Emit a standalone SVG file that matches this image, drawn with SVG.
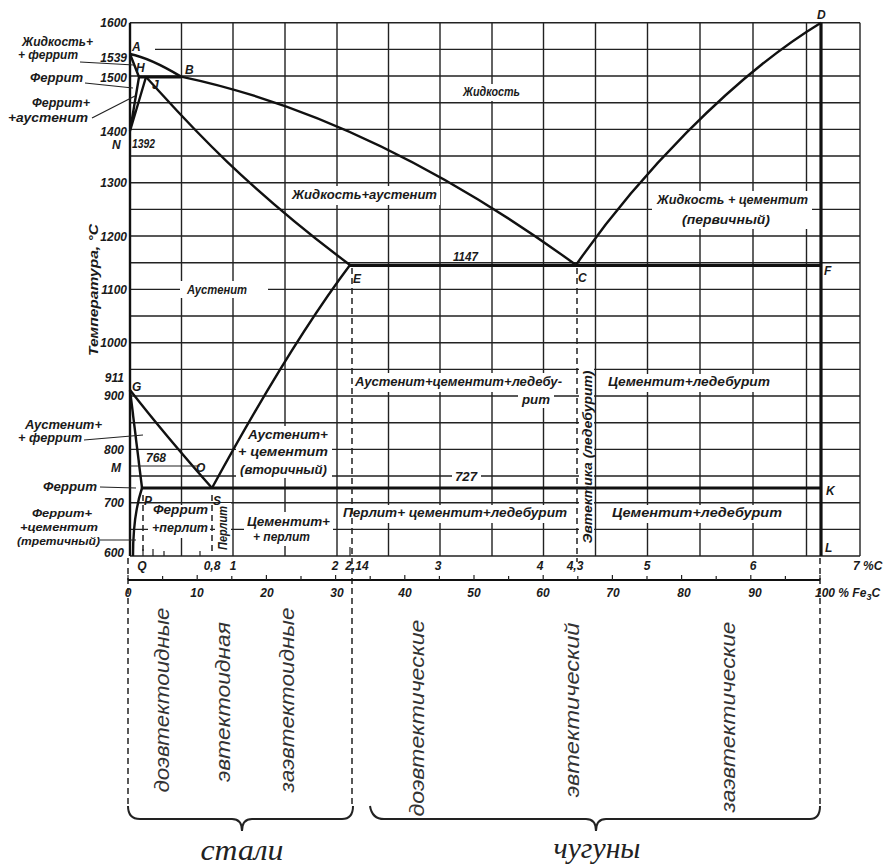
<svg xmlns="http://www.w3.org/2000/svg" width="886" height="868" viewBox="0 0 886 868">
<style>
.g{stroke:#222;stroke-width:1.4;fill:none}
.p{stroke:#111;stroke-width:2.4;fill:none;stroke-linejoin:round}
.pt{stroke:#111;stroke-width:3.2;fill:none}
.d{stroke:#222;stroke-width:1.5;fill:none;stroke-dasharray:6 4}
.ld{stroke:#222;stroke-width:1.2;fill:none}
.bg{fill:#fff}
.t{font-family:"Liberation Sans",Arial,sans-serif;font-style:italic;font-weight:bold;font-size:12.5px;fill:#1a1a1a}
.n{font-family:"Liberation Sans",Arial,sans-serif;font-style:italic;font-weight:bold;font-size:12px;fill:#1a1a1a}
.b{font-family:"Liberation Sans",Arial,sans-serif;font-style:italic;font-size:20px;fill:#333}
.s{font-family:"Liberation Serif","Times New Roman",serif;font-style:italic;font-size:30px;fill:#222}
</style>
<rect width="886" height="868" fill="#fff"/>
<g id="grid">
<path class="g" d="M181.5,22.7V556M233,22.7V556M285,22.7V556M337,22.7V556M388.5,22.7V556M440,22.7V556M492,22.7V556M543.5,22.7V556M595.5,22.7V556M647.5,22.7V556M700,22.7V556M753,22.7V556M806.5,22.7V556M860,22.7V556
M130,22.7H860M155,49.4H860M130,76H860M130,102.7H860M130,129.4H860M130,156H860M130,182.7H860M130,209.4H860M130,236H860M130,262.7H860M130,289.4H860M130,316H860M130,342.7H860M130,369.4H860M130,396H860M130,422.7H860M130,449.4H860M130,476H860M130,502.7H860M130,529.4H860M130,556H860"/>
</g>
<g id="label-backgrounds">
<rect class="bg" x="459" y="84" width="66" height="17"/>
<rect class="bg" x="288" y="186" width="152" height="19"/>
<rect class="bg" x="652" y="191" width="160" height="38"/>
<rect class="bg" x="180" y="281" width="88" height="17"/>
<rect class="bg" x="450" y="250" width="31" height="12"/>
<rect class="bg" x="351" y="373" width="215" height="19"/>
<rect class="bg" x="518" y="391" width="36" height="17"/>
<rect class="bg" x="236" y="426" width="96" height="52"/>
<rect class="bg" x="452" y="469" width="29" height="14"/>
<rect class="bg" x="340" y="505" width="230" height="18"/>
<rect class="bg" x="244" y="512" width="89" height="34"/>
<rect class="bg" x="604" y="374" width="170" height="18"/>
<rect class="bg" x="608" y="505" width="178" height="18"/>
<rect class="bg" x="148" y="505" width="62" height="33"/>
<rect class="bg" x="215" y="503" width="16" height="50"/>
<rect class="bg" x="579" y="368" width="15" height="178"/>
</g>
<g id="phase-lines">
<path class="p" d="M130,22.7V556"/>
<path class="p" d="M130,54Q150,58 181,76.6"/>
<path class="p" d="M181,76.6Q373,117 576,265"/>
<path class="p" d="M576,265C635,180 730,78 821,22.7"/>
<path class="p" d="M130,54L139,77L130,131M146,77L130,131"/>
<path class="pt" d="M139,77H181"/>
<path class="p" d="M146,77C175,108 230,175 350,265"/>
<path class="pt" d="M350,265.5H821"/>
<path class="p" d="M350,265Q290,345 212,488"/>
<path class="p" d="M130,390Q165,435 212,488"/>
<path class="p" d="M130,390L142,488"/>
<path class="p" d="M142,488Q133,515 133,556"/>
<path class="ld" d="M130,466H200"/>
<path class="pt" d="M142,488H821"/>
<path class="pt" d="M821,22.7V556"/>
</g>
<g id="dashed-lines">
<path class="d" d="M352,268V806"/>
<path class="d" d="M577,268V562"/>
<path class="d" d="M143,495V553M212,495V553"/>
<path class="d" d="M128,558V806"/>
<path class="d" d="M820,558V806"/>
</g>
<g id="leaders">
<path class="ld" d="M80,62L134,65M85,83L133,88M92,118L135,96M84,440L143,435M100,487L136,488M100,540L136,540"/>
</g>
<g id="axes">
<path class="ld" d="M143,549V556M153,549V556M164,551V556M200,551V556M350,547V556"/>
<path class="p" style="stroke-width:2" d="M128,580H820"/>
<path class="ld" d="M128,575V580M162.6,576V580M197.2,575V580M231.8,576V580M266.4,575V580M301,576V580M335.6,575V580M370.2,576V580M404.8,575V580M439.4,576V580M474,575V580M508.6,576V580M543.2,575V580M577.8,576V580M612.4,575V580M647,576V580M681.6,575V580M716.2,576V580M750.8,575V580M785.4,576V580M820,575V580"/>
<g class="n" text-anchor="end">
<text x="127" y="27">1600</text>
<text x="127" y="62">1539</text>
<text x="127" y="82">1500</text>
<text x="127" y="136">1400</text>
<text x="127" y="187">1300</text>
<text x="127" y="241">1200</text>
<text x="127" y="294">1100</text>
<text x="127" y="347">1000</text>
<text x="124" y="382">911</text>
<text x="124" y="400">900</text>
<text x="124" y="454">800</text>
<text x="124" y="507">700</text>
<text x="124" y="557">600</text>
</g>
<g class="n" text-anchor="middle">
<text x="142" y="570">Q</text>
<text x="212" y="570">0,8</text>
<text x="233" y="570">1</text>
<text x="335" y="570">2</text>
<text x="357" y="570">2,14</text>
<text x="438" y="570">3</text>
<text x="540" y="570">4</text>
<text x="575" y="570">4,3</text>
<text x="647" y="570">5</text>
<text x="753" y="570">6</text>
<text x="128" y="597">0</text>
<text x="197" y="597">10</text>
<text x="267" y="597">20</text>
<text x="337" y="597">30</text>
<text x="405" y="597">40</text>
<text x="474" y="597">50</text>
<text x="543" y="597">60</text>
<text x="613" y="597">70</text>
<text x="684" y="597">80</text>
<text x="755" y="597">90</text>
</g>
<text class="n" x="853" y="570">7 %C</text>
<text class="n" x="815" y="597">100 % Fe<tspan font-size="9" dy="3">3</tspan><tspan dy="-3">C</tspan></text>
<text class="t" transform="translate(98,290) rotate(-90)" text-anchor="middle" font-size="14" textLength="132" lengthAdjust="spacingAndGlyphs">Температура, °С</text>
</g>
<g id="point-labels" class="n">
<text x="132" y="51">A</text>
<text x="136" y="72">H</text>
<text x="185" y="74">B</text>
<text x="152" y="89">J</text>
<text x="112" y="149">N</text>
<text x="132" y="148" textLength="23" lengthAdjust="spacingAndGlyphs">1392</text>
<text x="132" y="391">G</text>
<text x="111" y="472">M</text>
<text x="146" y="462">768</text>
<text x="196" y="472">O</text>
<text x="144" y="505">P</text>
<text x="213" y="505">S</text>
<text x="353" y="283">E</text>
<text x="578" y="282">C</text>
<text x="824" y="275">F</text>
<text x="817" y="19">D</text>
<text x="826" y="495">K</text>
<text x="825" y="552">L</text>
<text x="453" y="261" textLength="25" lengthAdjust="spacingAndGlyphs">1147</text>
<text x="455" y="481" textLength="22" lengthAdjust="spacingAndGlyphs">727</text>
</g>
<g id="side-labels" class="t">
<text x="22" y="46" textLength="71" lengthAdjust="spacingAndGlyphs">Жидкость+</text>
<text x="18" y="59" textLength="60" lengthAdjust="spacingAndGlyphs">+ феррит</text>
<text x="30" y="82" textLength="53" lengthAdjust="spacingAndGlyphs">Феррит</text>
<text x="32" y="107" textLength="58" lengthAdjust="spacingAndGlyphs">Феррит+</text>
<text x="8" y="122" textLength="80" lengthAdjust="spacingAndGlyphs">+аустенит</text>
<text x="25" y="429" textLength="77" lengthAdjust="spacingAndGlyphs">Аустенит+</text>
<text x="18" y="442" textLength="64" lengthAdjust="spacingAndGlyphs">+ феррит</text>
<text x="43" y="491" textLength="54" lengthAdjust="spacingAndGlyphs">Феррит</text>
<text x="32" y="517" font-size="11.5" textLength="60" lengthAdjust="spacingAndGlyphs">Феррит+</text>
<text x="20" y="531" font-size="11.5" textLength="78" lengthAdjust="spacingAndGlyphs">+цементит</text>
<text x="17" y="545" font-size="11.5" textLength="83" lengthAdjust="spacingAndGlyphs">(третичный)</text>
</g>
<g id="region-labels" class="t">
<text x="463" y="96" textLength="57" lengthAdjust="spacingAndGlyphs">Жидкость</text>
<text x="292" y="199" textLength="145" lengthAdjust="spacingAndGlyphs">Жидкость+аустенит</text>
<text x="657" y="204" textLength="151" lengthAdjust="spacingAndGlyphs">Жидкость + цементит</text>
<text x="682" y="224" textLength="88" lengthAdjust="spacingAndGlyphs">(первичный)</text>
<text x="187" y="294" textLength="60" lengthAdjust="spacingAndGlyphs">Аустенит</text>
<text x="355" y="386" textLength="207" lengthAdjust="spacingAndGlyphs">Аустенит+цементит+ледебу-</text>
<text x="522" y="404" textLength="28" lengthAdjust="spacingAndGlyphs">рит</text>
<text x="248" y="439" textLength="80" lengthAdjust="spacingAndGlyphs">Аустенит+</text>
<text x="238" y="456" textLength="90" lengthAdjust="spacingAndGlyphs">+ цементит</text>
<text x="240" y="474" textLength="87" lengthAdjust="spacingAndGlyphs">(вторичный)</text>
<text x="343" y="517" textLength="224" lengthAdjust="spacingAndGlyphs">Перлит+ цементит+ледебурит</text>
<text x="247" y="526" textLength="83" lengthAdjust="spacingAndGlyphs">Цементит+</text>
<text x="253" y="541" textLength="57" lengthAdjust="spacingAndGlyphs">+ перлит</text>
<text x="608" y="386" textLength="162" lengthAdjust="spacingAndGlyphs">Цементит+ледебурит</text>
<text x="612" y="517" textLength="170" lengthAdjust="spacingAndGlyphs">Цементит+ледебурит</text>
<text x="153" y="514" textLength="55" lengthAdjust="spacingAndGlyphs">Феррит</text>
<text x="152" y="532" textLength="56" lengthAdjust="spacingAndGlyphs">+перлит</text>
<text transform="translate(227,528) rotate(-90)" text-anchor="middle" textLength="44" lengthAdjust="spacingAndGlyphs">Перлит</text>
<text transform="translate(592,457) rotate(-90)" text-anchor="middle" textLength="173" lengthAdjust="spacingAndGlyphs">Эвтектика (ледебурит)</text>
</g>
<g id="classification">
<path class="ld" style="stroke-width:2" d="M128,806Q128,819 140,819L232,819Q242,819 242,831Q242,819 252,819L342,819Q353,819 353,806"/>
<path class="ld" style="stroke-width:2" d="M370,806Q372,819 384,819L586,819Q596,819 596,831Q596,819 606,819L810,819Q820,819 820,806"/>
<g class="b" text-anchor="middle">
<text transform="translate(169,700) rotate(-90)" textLength="185" lengthAdjust="spacingAndGlyphs">доэвтектоидные</text>
<text transform="translate(230,702) rotate(-90)" textLength="160" lengthAdjust="spacingAndGlyphs">эвтектоидная</text>
<text transform="translate(294,700) rotate(-90)" textLength="185" lengthAdjust="spacingAndGlyphs">заэвтектоидные</text>
<text transform="translate(424,718) rotate(-90)" textLength="197" lengthAdjust="spacingAndGlyphs">доэвтектические</text>
<text transform="translate(579,710) rotate(-90)" textLength="175" lengthAdjust="spacingAndGlyphs">эвтектический</text>
<text transform="translate(735,717) rotate(-90)" textLength="191" lengthAdjust="spacingAndGlyphs">заэвтектические</text>
</g>
<text class="s" x="242" y="860" text-anchor="middle" textLength="83" lengthAdjust="spacingAndGlyphs">стали</text>
<text class="s" x="597" y="858" text-anchor="middle" textLength="87" lengthAdjust="spacingAndGlyphs">чугуны</text>
</g>
</svg>
